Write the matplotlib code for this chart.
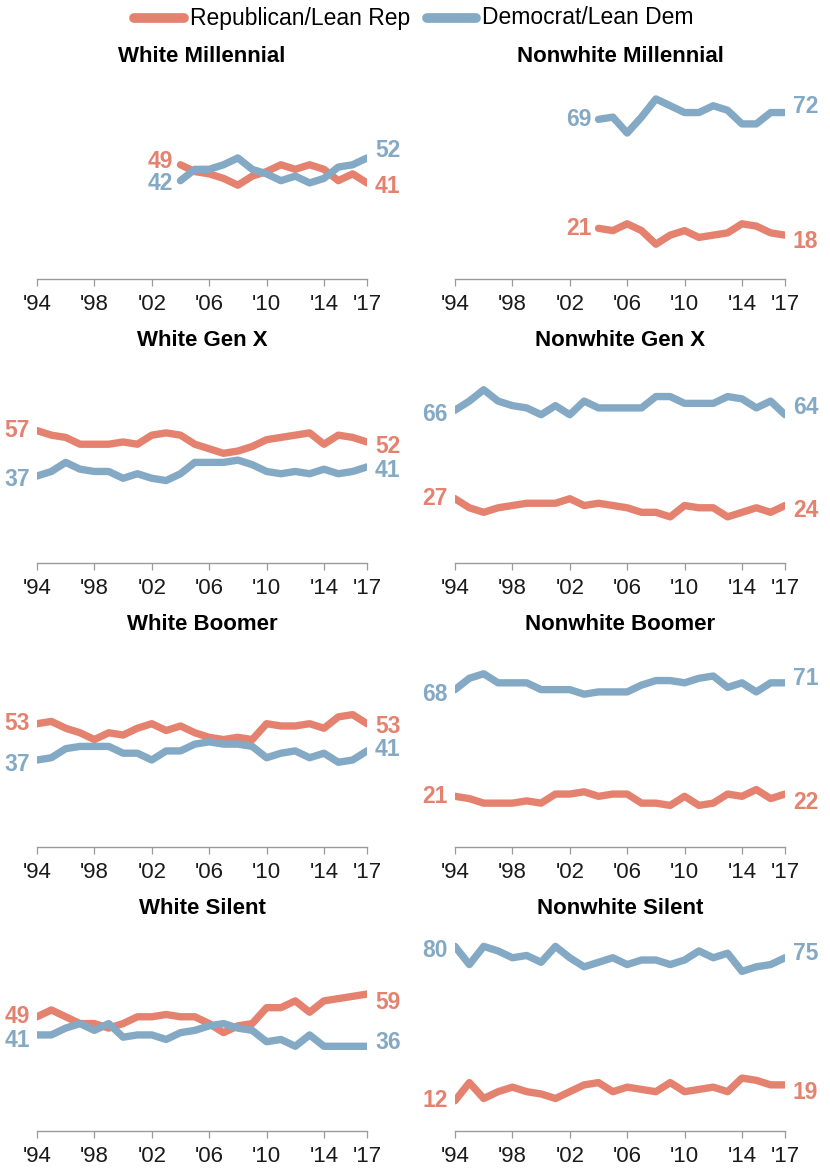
import matplotlib
matplotlib.use("Agg")
import matplotlib.pyplot as plt
from matplotlib.lines import Line2D

# ------------------------------------------------------------------
# Data: share identifying with each party (%), 1994-2017
# ------------------------------------------------------------------
years = list(range(1994, 2018))
years_mill = list(range(2004, 2018))

white_mill_rep = [49, 46, 45, 43, 40, 44, 46, 49, 47, 49, 47, 42, 45, 41]
white_mill_dem = [42, 47, 47, 49, 52, 47, 45, 42, 44, 41, 43, 48, 49, 52]
nonwhite_mill_rep = [21, 20, 23, 20, 14, 18, 20, 17, 18, 19, 23, 22, 19, 18]
nonwhite_mill_dem = [69, 70, 63, 70, 78, 75, 72, 72, 75, 73, 67, 67, 72, 72]

white_genx_rep = [57, 55, 54, 51, 51, 51, 52, 51, 55, 56, 55, 51, 49, 47,
                  48, 50, 53, 54, 55, 56, 51, 55, 54, 52]
white_genx_dem = [37, 39, 43, 40, 39, 39, 36, 38, 36, 35, 38, 43, 43, 43,
                  44, 42, 39, 38, 39, 38, 40, 38, 39, 41]
nonwhite_genx_rep = [27, 23, 21, 23, 24, 25, 25, 25, 27, 24, 25, 24, 23, 21,
                     21, 19, 24, 23, 23, 19, 21, 23, 21, 24]
nonwhite_genx_dem = [66, 70, 75, 70, 68, 67, 64, 68, 64, 70, 67, 67, 67, 67,
                     72, 72, 69, 69, 69, 72, 71, 67, 70, 64]

white_boom_rep = [53, 54, 51, 49, 46, 49, 48, 51, 53, 50, 52, 49, 47, 46,
                  47, 46, 53, 52, 52, 53, 51, 56, 57, 53]
white_boom_dem = [37, 38, 42, 43, 43, 43, 40, 40, 37, 41, 41, 44, 45, 44,
                  44, 43, 38, 40, 41, 38, 40, 36, 37, 41]
nonwhite_boom_rep = [21, 20, 18, 18, 18, 19, 18, 22, 22, 23, 21, 22, 22, 18,
                     18, 17, 21, 17, 18, 22, 21, 24, 20, 22]
nonwhite_boom_dem = [68, 73, 75, 71, 71, 71, 68, 68, 68, 66, 67, 67, 67, 70,
                     72, 72, 71, 73, 74, 69, 71, 67, 71, 71]

white_silent_rep = [49, 52, 49, 46, 46, 44, 46, 49, 49, 50, 49, 49, 46, 42,
                    45, 46, 53, 53, 56, 51, 56, 57, 58, 59]
white_silent_dem = [41, 41, 44, 46, 43, 46, 40, 41, 41, 39, 42, 43, 45, 46,
                    44, 43, 38, 39, 36, 41, 36, 36, 36, 36]
nonwhite_silent_rep = [12, 20, 13, 16, 18, 16, 15, 13, 16, 19, 20, 16, 18, 17,
                       16, 20, 16, 17, 18, 16, 22, 21, 19, 19]
nonwhite_silent_dem = [80, 72, 80, 78, 75, 76, 73, 80, 75, 71, 73, 75, 72, 74,
                       74, 72, 74, 78, 75, 77, 69, 71, 72, 75]

tick_years = [1994, 1998, 2002, 2006, 2010, 2014, 2017]
tick_labels = ["'94", "'98", "'02", "'06", "'10", "'14", "'17"]

REP = "#E5826F"
DEM = "#84A9C4"

# panel: title, x, rep, dem, label nudges in px (rep start, dem start, rep end, dem end)
panels = [
    ("White Millennial", years_mill, white_mill_rep, white_mill_dem, (3, -3, -4, 7)),
    ("Nonwhite Millennial", years_mill, nonwhite_mill_rep, nonwhite_mill_dem, (0, 0, -6, 6)),
    ("White Gen X", years, white_genx_rep, white_genx_dem, (0, -3, -5, -4)),
    ("Nonwhite Gen X", years, nonwhite_genx_rep, nonwhite_genx_dem, (0, -4, -5, 7)),
    ("White Boomer", years, white_boom_rep, white_boom_dem, (0, -4, -3, 1)),
    ("Nonwhite Boomer", years, nonwhite_boom_rep, nonwhite_boom_dem, (0, -5, -8, 4)),
    ("White Silent", years, white_silent_rep, white_silent_dem, (0, -6, -8, 4)),
    ("Nonwhite Silent", years, nonwhite_silent_rep, nonwhite_silent_dem, (0, -4, -8, 4)),
]

plt.rcParams.update({
    "font.family": ["Liberation Sans", "DejaVu Sans"],
    "font.size": 16,
})

W, H = 830, 1171
fig = plt.figure(figsize=(W / 100, H / 100), dpi=100)

PX = 2.27          # pixels per percentage point
YMIN, YMAX = -1.2, 88
col_left = [37, 455]
ax_w = 330

for i, (title, x, rep, dem, nudge) in enumerate(panels):
    row, col = divmod(i, 2)
    zero_px = 276 + 284 * row
    bottom_px = zero_px - YMIN * PX
    height_px = (YMAX - YMIN) * PX
    ax = fig.add_axes([col_left[col] / W, 1 - bottom_px / H, ax_w / W, height_px / H])

    ax.plot(x, rep, color=REP, lw=5.3, solid_capstyle="round", solid_joinstyle="round")
    ax.plot(x, dem, color=DEM, lw=5.3, solid_capstyle="round", solid_joinstyle="round")

    ax.set_xlim(1994, 2017)
    ax.set_ylim(YMIN, YMAX)
    ax.set_yticks([])
    ax.set_xticks(tick_years)
    ax.set_xticklabels(tick_labels)
    for s in ["left", "right", "top"]:
        ax.spines[s].set_visible(False)
    ax.spines["bottom"].set_color("#9a9a9a")
    ax.spines["bottom"].set_linewidth(1.0)
    ax.tick_params(axis="x", direction="out", length=5, width=0.9, color="#9a9a9a",
                   labelcolor="#1a1a1a", labelsize=16, pad=6)
    ax.patch.set_visible(False)

    ax.text(2005.5, 96.5, title, ha="center", va="center", fontsize=16,
            fontweight="bold", color="black", clip_on=False)

    # start / end value labels
    for series, color, ns, ne in [(rep, REP, nudge[0], nudge[2]),
                                  (dem, DEM, nudge[1], nudge[3])]:
        ax.annotate(f"{series[0]}", (x[0], series[0]), xytext=(-7, ns),
                    textcoords="offset pixels", ha="right", va="center",
                    fontsize=16.5, fontweight="bold", color=color, annotation_clip=False)
        ax.annotate(f"{series[-1]}", (x[-1], series[-1]), xytext=(8, ne),
                    textcoords="offset pixels", ha="left", va="center",
                    fontsize=16.5, fontweight="bold", color=color, annotation_clip=False)

# legend at top
ly = 1 - 18 / H
fig.add_artist(Line2D([134 / W, 184 / W], [ly, ly], lw=7, color=REP,
                      solid_capstyle="round", transform=fig.transFigure))
fig.text(190 / W, ly, "Republican/Lean Rep", ha="left", va="center", fontsize=16.5)
fig.add_artist(Line2D([427 / W, 476 / W], [ly, ly], lw=7, color=DEM,
                      solid_capstyle="round", transform=fig.transFigure))
fig.text(482 / W, ly, "Democrat/Lean Dem", ha="left", va="center", fontsize=16.5)

fig.savefig("out.png", dpi=100, facecolor="white")
